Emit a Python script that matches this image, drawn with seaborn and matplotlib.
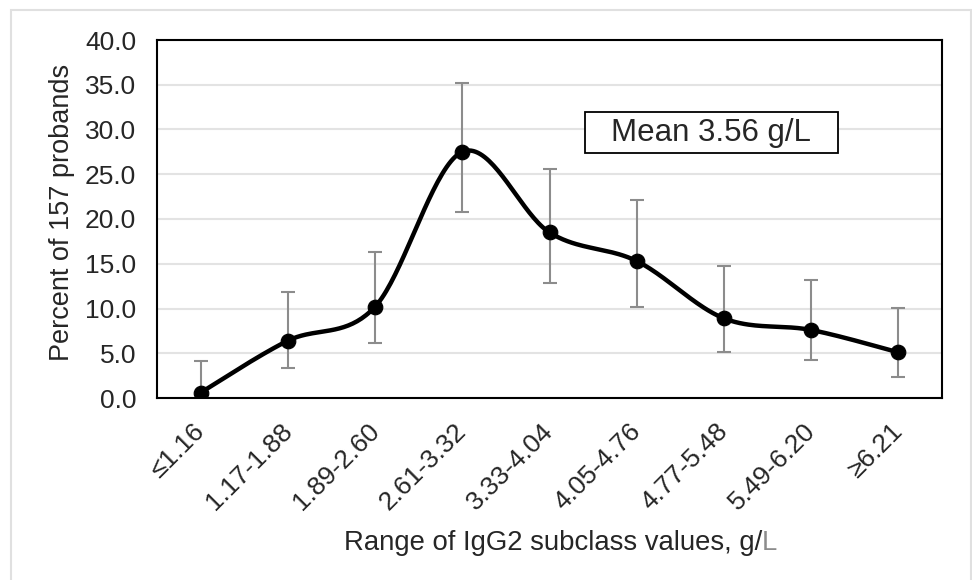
import numpy as np
import pandas as pd
import matplotlib
matplotlib.use("Agg")
import matplotlib.pyplot as plt
import matplotlib.transforms as mtransforms
from matplotlib.patches import Rectangle
import seaborn as sns

# ==================== DATA ====================
categories = ["≤1.16", "1.17-1.88", "1.89-2.60", "2.61-3.32", "3.33-4.04",
              "4.05-4.76", "4.77-5.48", "5.49-6.20", "≥6.21"]
percent = [0.6, 6.4, 10.2, 27.5, 18.5, 15.3, 8.9, 7.6, 5.1]
err_low = [0.0, 3.3, 6.2, 20.8, 12.9, 10.2, 5.1, 4.2, 2.4]
err_high = [4.1, 11.8, 16.3, 35.2, 25.6, 22.1, 14.8, 13.2, 10.1]

sns.set_theme(style="white")
plt.rcParams['font.family'] = ['Liberation Sans', 'DejaVu Sans']

df = pd.DataFrame({"cat": categories, "pos": np.arange(len(categories)), "pct": percent})


def smooth_curve(x, y, n=40):
    # Catmull-Rom style smoothing (like a spreadsheet "smoothed line")
    x = np.asarray(x, float); y = np.asarray(y, float)
    px = np.concatenate([[x[0]], x, [x[-1]]])
    py = np.concatenate([[y[0]], y, [y[-1]]])
    xs, ys = [], []
    for i in range(1, len(px) - 2):
        p0, p1, p2, p3 = [np.array([px[j], py[j]]) for j in (i - 1, i, i + 1, i + 2)]
        c1 = p1 + (p2 - p0) / 6
        c2 = p2 - (p3 - p1) / 6
        t = np.linspace(0, 1, n)[:, None]
        b = (1 - t) ** 3 * p1 + 3 * (1 - t) ** 2 * t * c1 + 3 * (1 - t) * t ** 2 * c2 + t ** 3 * p2
        xs.append(b[:, 0]); ys.append(b[:, 1])
    return np.concatenate(xs), np.concatenate(ys)


fig = plt.figure(figsize=(9.72, 5.8), dpi=100)
ax = fig.add_axes([157 / 972, 1 - 398 / 580, 785 / 972, 358 / 580])

# error bars
yerr = [np.array(percent) - np.array(err_low), np.array(err_high) - np.array(percent)]
ax.errorbar(df["pos"], df["pct"], yerr=yerr, fmt="none", ecolor="#8c8c8c",
            elinewidth=1.5, capsize=4.8, capthick=1.5, zorder=2)

sx, sy = smooth_curve(df["pos"], df["pct"])
sns.lineplot(x=sx, y=sy, ax=ax, color="black", linewidth=3.2, sort=False,
             estimator=None, zorder=3)
sns.scatterplot(data=df, x="pos", y="pct", ax=ax, color="black", s=110,
                edgecolor="black", zorder=4)

ax.set_xlim(-0.5, len(categories) - 0.5)
ax.set_ylim(0, 40)
ax.set_yticks(np.arange(0, 41, 5))
ax.set_yticklabels([f"{v:.1f}" for v in np.arange(0, 41, 5)], fontsize=19)
ax.set_xticks(df["pos"])
ax.set_xticklabels(categories, rotation=45, ha="right", rotation_mode="anchor", fontsize=19)
ax.tick_params(axis="both", length=0)
ax.tick_params(axis="y", pad=15)
ax.tick_params(axis="x", pad=15)
shift = mtransforms.ScaledTranslation(-8 / 100, 0, fig.dpi_scale_trans)
for lbl in ax.get_xticklabels():
    lbl.set_transform(lbl.get_transform() + shift)
ax.yaxis.grid(True, color="#e3e3e3", linewidth=1.5)
ax.set_axisbelow(True)
for s in ax.spines.values():
    s.set_color("black")
    s.set_linewidth(1.5)

ax.set_ylabel("")
ax.set_xlabel("")
fig.text(62 / 972, 1 - 212 / 580, "Percent of 157 probands", fontsize=19.5,
         rotation=90, ha="center", va="center")

# x-axis title with grey "L"
t = fig.text(553 / 972, 1 - 543 / 580, "Range of IgG2 subclass values, g/", fontsize=19.8,
             ha="center", va="center")
ax.annotate("L", xy=(1, 0), xycoords=t, ha="left", va="bottom", fontsize=19.8,
            color="#8c8c8c")

# mean annotation box
ax.add_patch(Rectangle((0.545, 0.684), 0.322, 0.1145, transform=ax.transAxes,
                       facecolor="white", edgecolor="black", linewidth=1.3, zorder=5))
ax.text(0.706, 0.741, "Mean 3.56 g/L", transform=ax.transAxes, fontsize=22.5,
        ha="center", va="center", zorder=6)

# chart area border
fig.patches.append(Rectangle((11 / 972, -0.05), 960 / 972, 1.05 - 10 / 580,
                             transform=fig.transFigure, fill=False,
                             edgecolor="#e0e0e0", linewidth=1.5))

fig.savefig("out.png", dpi=100)
